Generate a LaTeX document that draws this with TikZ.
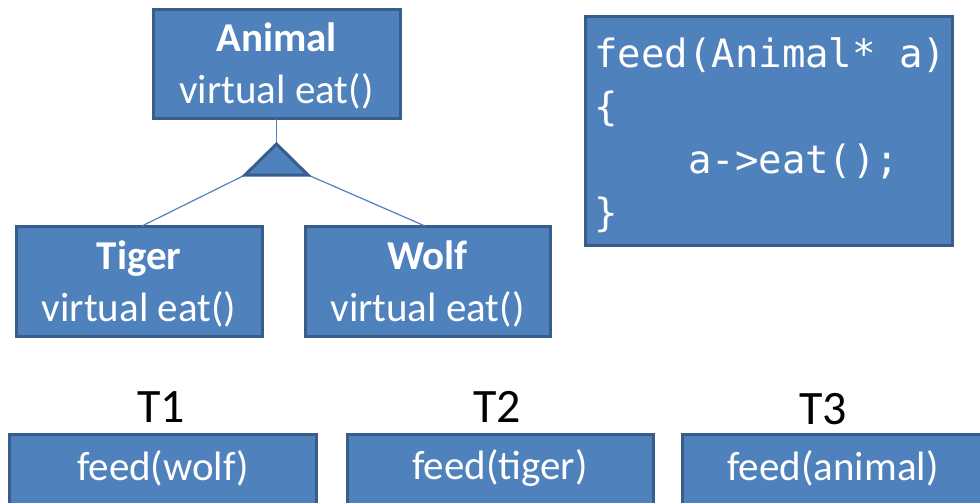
\documentclass[tikz,border=0pt]{standalone}
\usepackage{fontspec}
\setmainfont{Carlito}
\newfontfamily\codefont{DejaVu Sans Mono}
\definecolor{boxfill}{HTML}{4F81BD}
\definecolor{boxline}{HTML}{385D8A}
\begin{document}
\begin{tikzpicture}[x=1pt,y=-1pt,
  umlbox/.style={draw=boxline, fill=boxfill, line width=3pt},
  boxtext/.style={text=white, font=\fontsize{41}{52}\selectfont, align=center, inner sep=0pt},
  label/.style={font=\fontsize{48}{52}\selectfont, inner sep=0pt},
  link/.style={draw=boxfill, line width=1.2pt}]
\useasboundingbox (0,0) rectangle (980,503);

% class hierarchy
\draw[umlbox] (153,10) rectangle (400,118);
\node[boxtext] (animal) at (276.5,66) {\textbf{Animal}\\virtual eat()};
\coordinate (animalbot) at (276.5,118);

\draw[umlbox] (16,226) rectangle (262,336);
\node[boxtext] (tiger) at (139,284) {\textbf{Tiger}\\virtual eat()};
\coordinate (tigertop) at (142,226);

\draw[umlbox] (305,226) rectangle (550,336);
\node[boxtext] (wolf) at (427.5,284) {\textbf{Wolf}\\virtual eat()};
\coordinate (wolftop) at (425,226);

% inheritance triangle
\coordinate (apex) at (276.5,144);
\coordinate (baseL) at (245,175);
\coordinate (baseR) at (308,175);
\draw[link] (animalbot) -- (apex);
\draw[link] (baseL) -- (tigertop);
\draw[link] (baseR) -- (wolftop);
\draw[draw=boxline, fill=boxfill, line width=3pt, line join=miter] (apex) -- (baseR) -- (baseL) -- cycle;

% code box
\draw[umlbox] (585,17) rectangle (952,245);
\node[text=white, font=\codefont\fontsize{39}{53}\selectfont, align=left, anchor=north west, inner sep=0pt] (code) at (594,37)
  {feed(Animal*\ a)\\\{\\\ \ \ \ a->eat();\\\}};

% threads
\node[label] (t1) at (161,407) {T1};
\node[label] (t2) at (497,407) {T2};
\node[label] (t3) at (823,409) {T3};

\draw[umlbox] (9,434) rectangle (316,520);
\node[boxtext] (f1) at (163,468) {feed(wolf)};
\draw[umlbox] (347,434) rectangle (653,520);
\node[boxtext] (f2) at (500,468) {feed(tiger)};
\draw[umlbox] (682,434) rectangle (990,520);
\node[boxtext] (f3) at (833,468) {feed(animal)};
\end{tikzpicture}
\end{document}
